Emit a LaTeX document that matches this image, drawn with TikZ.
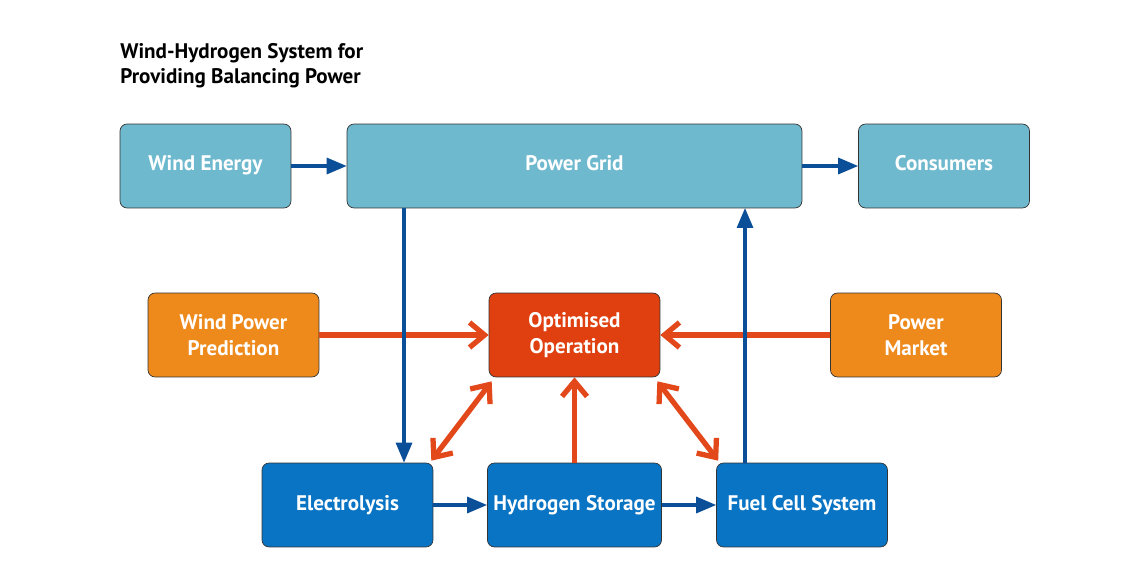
\documentclass[tikz,border=0pt]{standalone}
\usepackage{fontspec}
\setmainfont{PT Sans}
\usepackage{tikz}
\usetikzlibrary{arrows.meta}
\definecolor{gridteal}{HTML}{6FB9CE}
\definecolor{predorange}{HTML}{EE8A1C}
\definecolor{optred}{HTML}{E0400F}
\definecolor{unitblue}{HTML}{0A74C4}
\definecolor{flowblue}{HTML}{0B4F98}
\definecolor{ctrlred}{HTML}{E2481A}
\begin{document}
\begin{tikzpicture}[x=0.02cm,y=-0.02cm,
  box/.style={draw=black!80,thin,rounded corners=4pt,minimum width=3.42cm,minimum height=1.68cm,
    text=white,align=center,font=\fontsize{12}{14.5}\selectfont\bfseries},
  flow/.style={draw=flowblue,line width=1.8pt,-{Triangle[length=0.4cm,width=0.32cm]}},
  barb/.tip={Straight Barb[length=0.3cm,width=0.5cm]},
  ctrl/.style={draw=ctrlred,line width=3pt,-barb}]
\useasboundingbox[fill=white] (0,0) rectangle (1129,564);
\node[anchor=base west,align=left,inner sep=0pt,font=\fontsize{12}{14.5}\selectfont\bfseries] (title) at (120,84)
  {Wind-Hydrogen System for\\Providing Balancing Power};
% top row
\node[box,fill=gridteal] (wind) at (205.5,166) {Wind Energy\vphantom{g}\raisebox{0pt}[0pt][3pt]{}};
\node[box,fill=gridteal,minimum width=9.1cm] (grid) at (574.5,166) {Power Grid\raisebox{0pt}[0pt][3pt]{}};
\node[box,fill=gridteal] (cons) at (944,166) {Consumers\raisebox{0pt}[0pt][3pt]{}};
% middle row
\node[box,fill=predorange] (pred) at (233.5,335) {Wind Power\\Prediction};
\node[box,fill=optred] (opt) at (574.5,335) {Optimised\\Operation};
\node[box,fill=predorange] (market) at (916,335) {Power\\Market};
% bottom row
\node[box,fill=unitblue] (elec) at (347.5,505) {Electrolysis};
\node[box,fill=unitblue] (store) at (574.5,505) {Hydrogen Storage};
\node[box,fill=unitblue] (fuel) at (802,505) {Fuel Cell System};
\coordinate (down) at (404,208);
\coordinate (up) at (745,208);
% control arrows
\draw[ctrl] (pred.east) -- (opt.west);
\draw[ctrl] (market.west) -- (opt.east);
\draw[ctrl] (store.north) -- (opt.south);
\draw[ctrl,barb-barb] ([shift={(3,4)}]opt.south west) -- ([shift={(-2,-2)}]elec.north east);
\draw[ctrl,barb-barb] ([shift={(-3,4)}]opt.south east) -- ([shift={(2,-2)}]fuel.north west);
% energy flow
\draw[flow] (wind.east) -- (grid.west);
\draw[flow] (grid.east) -- (cons.west);
\draw[flow] (down) -- (down |- elec.north);
\draw[flow] (up |- fuel.north) -- (up);
\draw[flow] (elec.east) -- (store.west);
\draw[flow] (store.east) -- (fuel.west);
\end{tikzpicture}
\end{document}
